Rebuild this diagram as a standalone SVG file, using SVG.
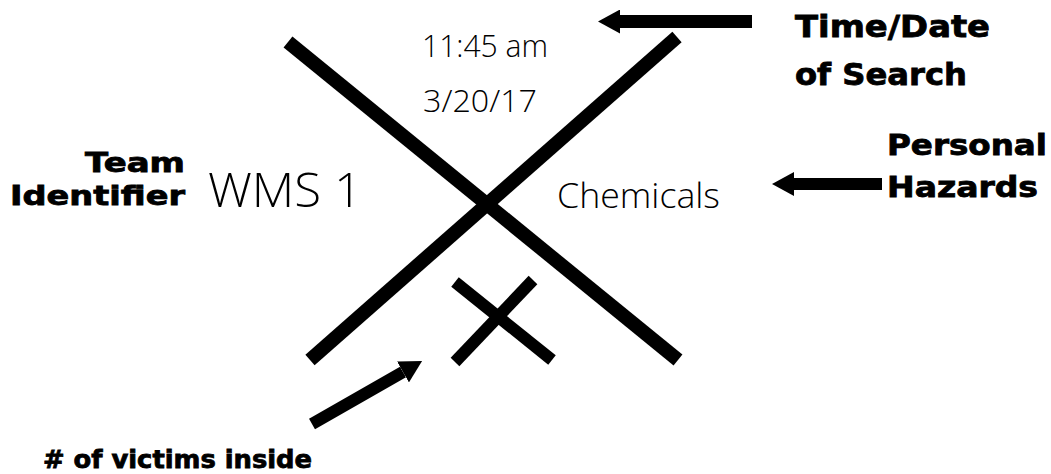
<svg xmlns="http://www.w3.org/2000/svg" width="1051" height="474" viewBox="0 0 1051 474">
<style>
.lbl{font-family:"DejaVu Sans","Verdana",sans-serif;font-weight:bold;fill:#000;stroke:#000;stroke-width:0.8}
.hand{font-family:"Open Sans","DejaVu Sans",sans-serif;font-weight:300;fill:#000}
.big{stroke:#000;stroke-width:14;stroke-linecap:butt;fill:none}
.small{stroke:#000;stroke-width:12;stroke-linecap:butt;fill:none}
.arr{stroke:#000;fill:none}
</style>
<defs>
<marker id="head" markerUnits="userSpaceOnUse" viewBox="0 0 22 24" refX="0" refY="12" markerWidth="22" markerHeight="24" orient="auto">
<path d="M0,0 L22,12 L0,24 Z" fill="#000"/>
</marker>
</defs>
<rect width="1051" height="474" fill="#fff"/>
<g id="marking">
<line class="big" x1="288" y1="42" x2="678" y2="360"/>
<line class="big" x1="677" y1="37" x2="310" y2="360"/>
</g>
<g id="victims-mark">
<line class="small" x1="455" y1="282" x2="552" y2="360"/>
<line class="small" x1="533" y1="280" x2="455" y2="362"/>
</g>
<g id="connectors">
<line class="arr" stroke-width="13" x1="752" y1="21.5" x2="620" y2="21.5" marker-end="url(#head)"/>
<line class="arr" stroke-width="12" x1="882" y1="184" x2="794" y2="184" marker-end="url(#head)"/>
<line class="arr" stroke-width="12" x1="312" y1="424" x2="403" y2="372" marker-end="url(#head)"/>
</g>
<g id="time-date">
<text class="hand" x="422" y="57" font-size="32" textLength="126" lengthAdjust="spacingAndGlyphs">11:45 am</text>
<text class="hand" x="423" y="112" font-size="32" textLength="114" lengthAdjust="spacingAndGlyphs">3/20/17</text>
</g>
<g id="hazards">
<text class="hand" x="557" y="208" font-size="34" textLength="163" lengthAdjust="spacingAndGlyphs">Chemicals</text>
</g>
<g id="team">
<text class="hand" x="208" y="207" font-size="48" textLength="154" lengthAdjust="spacingAndGlyphs">WMS 1</text>
</g>
<g id="label-time">
<text class="lbl" x="795" y="37" font-size="30" textLength="195" lengthAdjust="spacingAndGlyphs">Time/Date</text>
<text class="lbl" x="795" y="85" font-size="30" textLength="172" lengthAdjust="spacingAndGlyphs">of Search</text>
</g>
<g id="label-hazards">
<text class="lbl" x="887" y="155" font-size="28" textLength="160" lengthAdjust="spacingAndGlyphs">Personal</text>
<text class="lbl" x="887" y="197" font-size="28" textLength="151" lengthAdjust="spacingAndGlyphs">Hazards</text>
</g>
<g id="label-team">
<text class="lbl" x="85" y="172" font-size="27" textLength="100" lengthAdjust="spacingAndGlyphs">Team</text>
<text class="lbl" x="10" y="205" font-size="27" textLength="175" lengthAdjust="spacingAndGlyphs">Identifier</text>
</g>
<g id="label-victims">
<text class="lbl" x="43" y="468" font-size="25" textLength="269" lengthAdjust="spacingAndGlyphs"># of victims inside</text>
</g>
</svg>
